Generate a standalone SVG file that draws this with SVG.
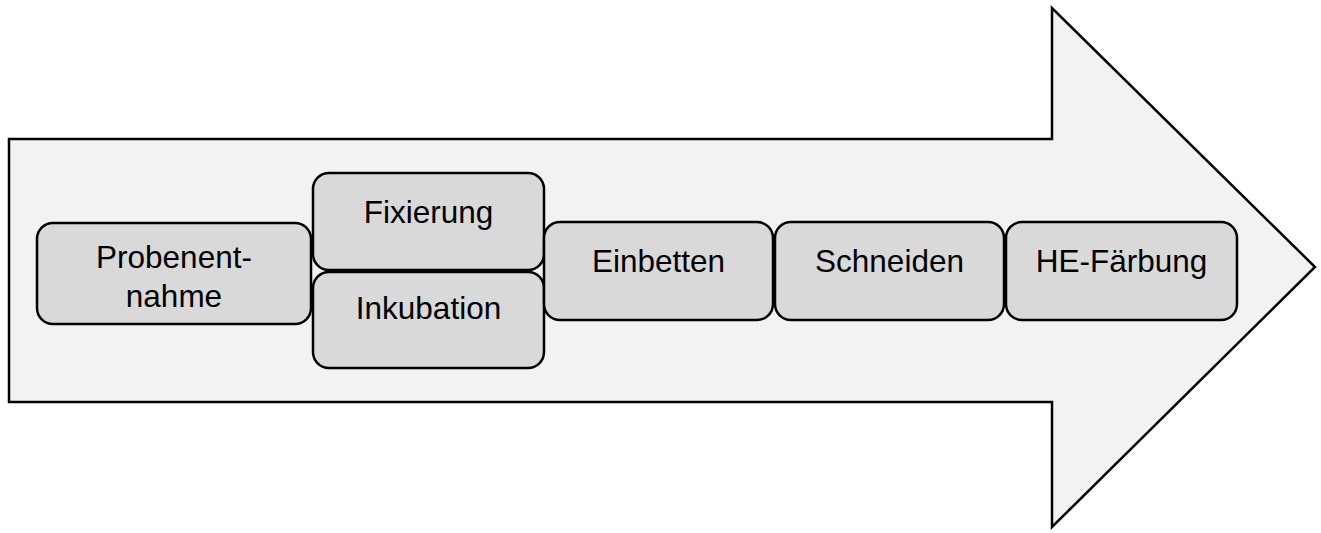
<svg xmlns="http://www.w3.org/2000/svg" width="1321" height="533" viewBox="0 0 1321 533">
<style>
.box{fill:#d9d9d9;stroke:#000;stroke-width:2.5}
.lbl{font-family:"Liberation Sans",Arial,sans-serif;font-size:31.5px;fill:#000;text-anchor:middle}
</style>
<rect width="1321" height="533" fill="#fff"/>
<g id="arrow">
<polygon points="9,139 1052,139 1052,8 1315,267 1052,527 1052,402 9,402" fill="#f2f2f2" stroke="#000" stroke-width="2.5"/>
</g>
<g id="connectors"></g>
<g id="probenentnahme">
<rect class="box" x="37" y="223" width="274" height="101" rx="16"/>
<text class="lbl" x="174" y="268">Probenent-</text>
<text class="lbl" x="174" y="307">nahme</text>
</g>
<g id="fixierung">
<rect class="box" x="313" y="173" width="231" height="97" rx="16"/>
<text class="lbl" x="428.5" y="223">Fixierung</text>
</g>
<g id="inkubation">
<rect class="box" x="313" y="272" width="231" height="96" rx="16"/>
<text class="lbl" x="428.5" y="319">Inkubation</text>
</g>
<g id="einbetten">
<rect class="box" x="544" y="222" width="229" height="98" rx="16"/>
<text class="lbl" x="658.5" y="272">Einbetten</text>
</g>
<g id="schneiden">
<rect class="box" x="775" y="222" width="229" height="98" rx="16"/>
<text class="lbl" x="889.5" y="272">Schneiden</text>
</g>
<g id="he-faerbung">
<rect class="box" x="1006" y="222" width="231" height="98" rx="16"/>
<text class="lbl" x="1121.5" y="272">HE-Färbung</text>
</g>
</svg>
